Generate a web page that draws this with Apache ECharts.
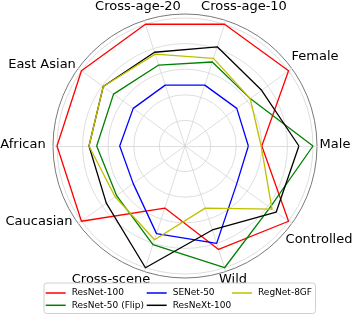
<!DOCTYPE html>
<html>
<head>
<meta charset="utf-8">
<script src="https://cdn.jsdelivr.net/npm/echarts@6/dist/echarts.min.js"></script>
<style>
html,body{margin:0;padding:0;background:#fff;}
#chart{width:357px;height:317px;}
</style>
</head>
<body>
<div id="chart"></div>
<script>
// ---- data ----
var categories = ['Male','Female','Cross-age-10','Cross-age-20','East Asian','African','Caucasian','Cross-scene','Wild','Controlled'];
var seriesNames = ['ResNet-100','ResNet-50 (Flip)','SENet-50','ResNeXt-100','RegNet-8GF'];
var resnet100   = [0.60, 1.00, 1.00, 1.00, 1.00, 1.00, 1.00, 0.51, 0.85, 1.00];
var resnet50Flip= [1.00, 0.63, 0.69, 0.665, 0.69, 0.69, 0.66, 0.81, 1.00, 0.82];
var senet50     = [0.495, 0.50, 0.50, 0.50, 0.50, 0.51, 0.50, 0.72, 0.80, 0.50];
var resnext100  = [0.89, 0.74, 0.815, 0.77, 0.79, 0.75, 0.76, 1.00, 0.69, 0.88];
var regnet8gf   = [0.595, 0.63, 0.72, 0.755, 0.79, 0.75, 0.675, 0.77, 0.51, 0.84];
var seriesValues = [resnet100, resnet50Flip, senet50, resnext100, regnet8gf];

// ---- layout / style ----
var colors = ['#ff0000','#008000','#0000ff','#000000','#bfbf00'];
var cx = 185, cy = 146, R = 128, RF = 132;
var labelOffsets = [[150,-1],[130,-89],[59,-139],[-47,-139],[-143,-81],[-162,-1],[-146,76],[-74,134],[48,134],[134,94]];

var chart = echarts.init(document.getElementById('chart'), null, {renderer:'canvas'});

var indicator = categories.map(function(c){ return {name:c, min:0, max:1}; });

var graphics = [{
  type:'rect', left:43.5, top:282.5, shape:{width:271.5, height:30.5, r:3},
  style:{fill:'rgba(255,255,255,0.85)', stroke:'#d0d0d0', lineWidth:1}, z:10
}];
categories.forEach(function(c,i){
  graphics.push({
    type:'text', x:cx+labelOffsets[i][0], y:cy+labelOffsets[i][1],
    style:{text:c, fill:'#000', font:'13px "DejaVu Sans"', align:'center', verticalAlign:'middle'},
    z:5
  });
});

function legendCol(items, left){
  return {
    data: items, orient:'vertical', left:left, top:288.5, padding:0,
    itemWidth:20, itemHeight:1.5, itemGap:3.3, icon:'rect', selectedMode:false,
    textStyle:{fontFamily:'DejaVu Sans', fontSize:9, color:'#000', padding:[0,0,0,1]},
    z:20
  };
}

var option = {
  backgroundColor:'#fff',
  animation:false,
  color: colors,
  legend: [
    legendCol([seriesNames[0], seriesNames[1]], 45.7),
    legendCol([seriesNames[2], seriesNames[3]], 146.7),
    legendCol([seriesNames[4]], 232)
  ],
  radar: [{
    center:[cx,cy], radius:R, startAngle:0, splitNumber:5, shape:'circle',
    indicator: indicator,
    axisName:{show:false},
    axisLine:{show:false},
    axisTick:{show:false},
    axisLabel:{show:false},
    splitArea:{show:false},
    splitLine:{lineStyle:{color:'#d6d6d6', width:0.8}}
  },{
    center:[cx,cy], radius:RF, startAngle:0, splitNumber:1, shape:'circle',
    indicator: indicator,
    axisName:{show:false},
    axisLine:{show:true, lineStyle:{color:'#d6d6d6', width:0.8}},
    axisTick:{show:false},
    axisLabel:{show:false},
    splitArea:{show:false},
    splitLine:{lineStyle:{color:'#7a7a7a', width:1}}
  }],
  series: seriesNames.map(function(n,i){
    return {
      type:'radar', radarIndex:0, name:n, symbol:'none',
      lineStyle:{color:colors[i], width:1.3},
      itemStyle:{color:colors[i]},
      data:[{value:seriesValues[i], name:n}],
      z:3
    };
  }),
  graphic: graphics
};
chart.setOption(option);
</script>
</body>
</html>
